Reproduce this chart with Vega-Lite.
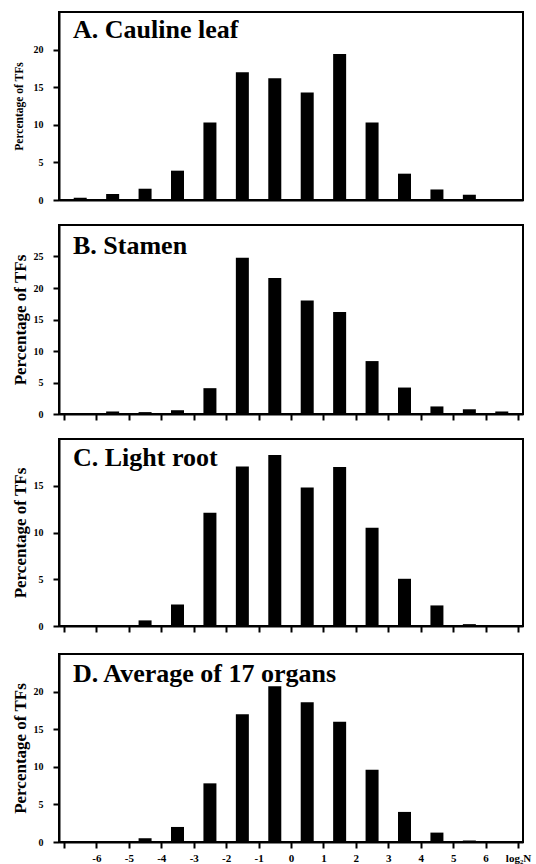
{
  "$schema": "https://vega.github.io/schema/vega-lite/v6.json",
  "background": "white",
  "padding": {"left": 10, "top": 11, "right": 0, "bottom": 0},
  "config": {
    "font": "Liberation Serif",
    "view": {"stroke": "black", "strokeWidth": 2},
    "axis": {
      "domainColor": "black", "domainWidth": 2,
      "tickColor": "black", "tickWidth": 2, "tickSize": 6,
      "labelFont": "Liberation Serif", "labelFontWeight": "bold", "labelColor": "black", "labelFontSize": 10,
      "titleFont": "Liberation Serif", "titleFontWeight": "bold", "titleColor": "black",
      "grid": false
    }
  },
  "datasets": {
    "dist": [
      {"organ": "A", "log2N": -6.5, "pct": 0.3},
      {"organ": "A", "log2N": -5.5, "pct": 0.8},
      {"organ": "A", "log2N": -4.5, "pct": 1.5},
      {"organ": "A", "log2N": -3.5, "pct": 3.9},
      {"organ": "A", "log2N": -2.5, "pct": 10.3},
      {"organ": "A", "log2N": -1.5, "pct": 17.0},
      {"organ": "A", "log2N": -0.5, "pct": 16.2},
      {"organ": "A", "log2N": 0.5, "pct": 14.3},
      {"organ": "A", "log2N": 1.5, "pct": 19.4},
      {"organ": "A", "log2N": 2.5, "pct": 10.3},
      {"organ": "A", "log2N": 3.5, "pct": 3.5},
      {"organ": "A", "log2N": 4.5, "pct": 1.4},
      {"organ": "A", "log2N": 5.5, "pct": 0.7},
      {"organ": "A", "log2N": 6.5, "pct": 0},
      {"organ": "B", "log2N": -6.5, "pct": 0},
      {"organ": "B", "log2N": -5.5, "pct": 0.4},
      {"organ": "B", "log2N": -4.5, "pct": 0.3},
      {"organ": "B", "log2N": -3.5, "pct": 0.6},
      {"organ": "B", "log2N": -2.5, "pct": 4.1},
      {"organ": "B", "log2N": -1.5, "pct": 24.8},
      {"organ": "B", "log2N": -0.5, "pct": 21.6},
      {"organ": "B", "log2N": 0.5, "pct": 18.0},
      {"organ": "B", "log2N": 1.5, "pct": 16.2},
      {"organ": "B", "log2N": 2.5, "pct": 8.4},
      {"organ": "B", "log2N": 3.5, "pct": 4.2},
      {"organ": "B", "log2N": 4.5, "pct": 1.2},
      {"organ": "B", "log2N": 5.5, "pct": 0.75},
      {"organ": "B", "log2N": 6.5, "pct": 0.4},
      {"organ": "C", "log2N": -6.5, "pct": 0},
      {"organ": "C", "log2N": -5.5, "pct": 0},
      {"organ": "C", "log2N": -4.5, "pct": 0.6},
      {"organ": "C", "log2N": -3.5, "pct": 2.3},
      {"organ": "C", "log2N": -2.5, "pct": 12.1},
      {"organ": "C", "log2N": -1.5, "pct": 17.05},
      {"organ": "C", "log2N": -0.5, "pct": 18.3},
      {"organ": "C", "log2N": 0.5, "pct": 14.8},
      {"organ": "C", "log2N": 1.5, "pct": 17.0},
      {"organ": "C", "log2N": 2.5, "pct": 10.5},
      {"organ": "C", "log2N": 3.5, "pct": 5.05},
      {"organ": "C", "log2N": 4.5, "pct": 2.2},
      {"organ": "C", "log2N": 5.5, "pct": 0.2},
      {"organ": "C", "log2N": 6.5, "pct": 0},
      {"organ": "D", "log2N": -6.5, "pct": 0},
      {"organ": "D", "log2N": -5.5, "pct": 0.1},
      {"organ": "D", "log2N": -4.5, "pct": 0.5},
      {"organ": "D", "log2N": -3.5, "pct": 2.0},
      {"organ": "D", "log2N": -2.5, "pct": 7.8},
      {"organ": "D", "log2N": -1.5, "pct": 17.0},
      {"organ": "D", "log2N": -0.5, "pct": 20.7},
      {"organ": "D", "log2N": 0.5, "pct": 18.6},
      {"organ": "D", "log2N": 1.5, "pct": 16.0},
      {"organ": "D", "log2N": 2.5, "pct": 9.6},
      {"organ": "D", "log2N": 3.5, "pct": 4.0},
      {"organ": "D", "log2N": 4.5, "pct": 1.25},
      {"organ": "D", "log2N": 5.5, "pct": 0.2},
      {"organ": "D", "log2N": 6.5, "pct": 0}
    ]
  },
  "spacing": 19,
  "vconcat": [
    {
      "spacing": 16,
      "vconcat": [
        {
          "spacing": 18,
          "vconcat": [
            {
              "width": 464, "height": 188,
              "layer": [
                {
                  "data": {"name": "dist"},
                  "transform": [{"filter": "datum.organ == 'A'"}],
                  "mark": {"type": "bar", "width": 13, "color": "black"},
                  "encoding": {
                    "x": {"field": "log2N", "type": "quantitative", "scale": {"domain": [-7, 7], "nice": false},
                          "axis": {"values": [-7,-6,-5,-4,-3,-2,-1,0,1,2,3,4,5,6,7], "tickCount": 30, "labels": false, "ticks": false, "title": null}},
                    "y": {"field": "pct", "type": "quantitative", "scale": {"domain": [0, 25], "nice": false},
                          "axis": {"values": [0, 5, 10, 15, 20], "tickCount": 30, "format": "d", "labelOverlap": false, "labelPadding": 10, "title": "Percentage of TFs", "titleFontSize": 11.5, "titlePadding": 9}}
                  }
                },
                {
                  "data": {"values": [{"label": "A. Cauline leaf"}]},
                  "mark": {"type": "text", "align": "left", "baseline": "alphabetic", "dx": 9, "dy": 26, "fontSize": 26, "font": "Liberation Serif", "fontWeight": "bold", "color": "black"},
                  "encoding": {"x": {"datum": -7}, "y": {"datum": 25}, "text": {"field": "label"}}
                }
              ]
            },
            {
              "width": 464, "height": 189,
              "layer": [
                {
                  "data": {"name": "dist"},
                  "transform": [{"filter": "datum.organ == 'B'"}],
                  "mark": {"type": "bar", "width": 13, "color": "black"},
                  "encoding": {
                    "x": {"field": "log2N", "type": "quantitative", "scale": {"domain": [-7, 7], "nice": false},
                          "axis": {"values": [-7,-6,-5,-4,-3,-2,-1,0,1,2,3,4,5,6,7], "tickCount": 30, "labels": false, "title": null}},
                    "y": {"field": "pct", "type": "quantitative", "scale": {"domain": [0, 30], "nice": false},
                          "axis": {"values": [0, 5, 10, 15, 20, 25], "tickCount": 30, "format": "d", "labelOverlap": false, "labelPadding": 10, "title": "Percentage of TFs", "titleFontSize": 17, "titlePadding": 4}}
                  }
                },
                {
                  "data": {"values": [{"label": "B. Stamen"}]},
                  "mark": {"type": "text", "align": "left", "baseline": "alphabetic", "dx": 9, "dy": 29, "fontSize": 26, "font": "Liberation Serif", "fontWeight": "bold", "color": "black"},
                  "encoding": {"x": {"datum": -7}, "y": {"datum": 30}, "text": {"field": "label"}}
                }
              ]
            }
          ]
        },
        {
          "width": 464, "height": 187,
          "layer": [
            {
              "data": {"name": "dist"},
              "transform": [{"filter": "datum.organ == 'C'"}],
              "mark": {"type": "bar", "width": 13, "color": "black"},
              "encoding": {
                "x": {"field": "log2N", "type": "quantitative", "scale": {"domain": [-7, 7], "nice": false},
                      "axis": {"values": [-7,-6,-5,-4,-3,-2,-1,0,1,2,3,4,5,6,7], "tickCount": 30, "labels": false, "title": null}},
                "y": {"field": "pct", "type": "quantitative", "scale": {"domain": [0, 20], "nice": false},
                      "axis": {"values": [0, 5, 10, 15], "tickCount": 30, "format": "d", "labelOverlap": false, "labelPadding": 10, "title": "Percentage of TFs", "titleFontSize": 17, "titlePadding": 4}}
              }
            },
            {
              "data": {"values": [{"label": "C. Light root"}]},
              "mark": {"type": "text", "align": "left", "baseline": "alphabetic", "dx": 9, "dy": 27, "fontSize": 26, "font": "Liberation Serif", "fontWeight": "bold", "color": "black"},
              "encoding": {"x": {"datum": -7}, "y": {"datum": 20}, "text": {"field": "label"}}
            }
          ]
        }
      ]
    },
    {
      "width": 464, "height": 188,
      "layer": [
        {
          "data": {"name": "dist"},
          "transform": [{"filter": "datum.organ == 'D'"}],
          "mark": {"type": "bar", "width": 13, "color": "black"},
          "encoding": {
            "x": {"field": "log2N", "type": "quantitative", "scale": {"domain": [-7, 7], "nice": false},
                  "axis": {"values": [-7,-6,-5,-4,-3,-2,-1,0,1,2,3,4,5,6,7], "tickCount": 30, "labelOverlap": false, "labelFontSize": 11, "labelPadding": 4, "labelFlush": false,
                           "labelExpr": "datum.value == 7 ? 'log₂N' : (datum.value == -7 ? '' : toString(datum.value))", "title": null}},
            "y": {"field": "pct", "type": "quantitative", "scale": {"domain": [0, 25], "nice": false},
                  "axis": {"values": [0, 5, 10, 15, 20], "tickCount": 30, "format": "d", "labelOverlap": false, "labelPadding": 10, "title": "Percentage of TFs", "titleFontSize": 17, "titlePadding": 4}}
          }
        },
        {
          "data": {"values": [{"label": "D. Average of 17 organs"}]},
          "mark": {"type": "text", "align": "left", "baseline": "alphabetic", "dx": 9, "dy": 28, "fontSize": 26, "font": "Liberation Serif", "fontWeight": "bold", "color": "black"},
          "encoding": {"x": {"datum": -7}, "y": {"datum": 25}, "text": {"field": "label"}}
        }
      ]
    }
  ]
}
